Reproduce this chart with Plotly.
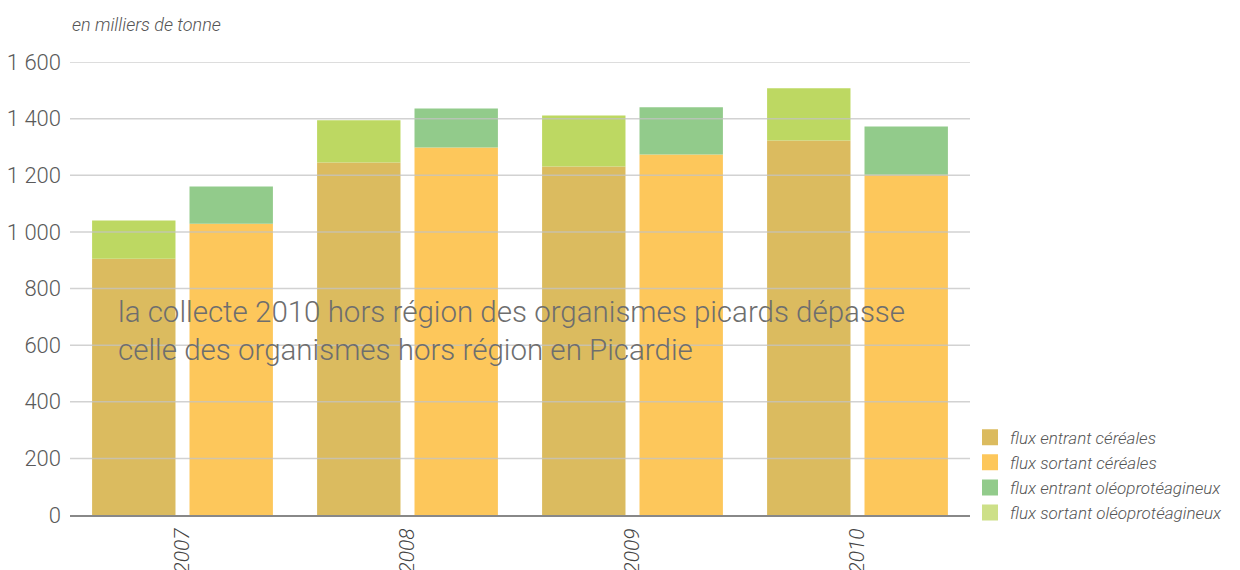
import plotly.graph_objects as go

years = ["2007", "2008", "2009", "2010"]
entrant_cereales = [905, 1245, 1231, 1323]
sortant_oleo = [135, 149, 180, 184]
sortant_cereales = [1029, 1298, 1273, 1202]
entrant_oleo = [131, 138, 167, 170]
y_ticks = [0, 200, 400, 600, 800, 1000, 1200, 1400, 1600]

series_names = [
    "flux entrant céréales",
    "flux sortant céréales",
    "flux entrant oléoprotéagineux",
    "flux sortant oléoprotéagineux",
]
bar_colors = ["#DBBB5F", "#FDC75B", "#92CB8B", "#BDD862"]
legend_colors = ["#DBBB5F", "#FDC75B", "#92CB8B", "#CDE088"]

FONT = "Roboto"
TXT = "#555555"

fig = go.Figure()

# left bar of each year: entrant céréales + sortant oléo on top
fig.add_bar(x=years, y=entrant_cereales, offsetgroup="a", marker_color=bar_colors[0],
            marker_line_width=0, showlegend=False, name=series_names[0])
fig.add_bar(x=years, y=sortant_oleo, base=entrant_cereales, offsetgroup="a",
            marker_color=bar_colors[3], marker_line_width=0, showlegend=False, name=series_names[3])
# right bar: sortant céréales + entrant oléo on top
fig.add_bar(x=years, y=sortant_cereales, offsetgroup="b", marker_color=bar_colors[1],
            marker_line_width=0, showlegend=False, name=series_names[1])
fig.add_bar(x=years, y=entrant_oleo, base=sortant_cereales, offsetgroup="b",
            marker_color=bar_colors[2], marker_line_width=0, showlegend=False, name=series_names[2])

# legend entries
for name, col in zip(series_names, legend_colors):
    fig.add_scatter(x=[None], y=[None], mode="markers", name=name,
                    marker=dict(symbol="square", size=16, color=col))

# gridlines drawn above the bars
for t in y_ticks[1:]:
    fig.add_shape(type="line", xref="paper", x0=0, x1=1, yref="y", y0=t, y1=t,
                  line=dict(color="rgba(195,195,195,0.75)", width=1.5), layer="above")

fig.update_layout(
    width=1232, height=562,
    margin=dict(l=62, r=267, t=54, b=55),
    paper_bgcolor="white", plot_bgcolor="white",
    barmode="group", bargap=0.134, bargroupgap=0.144,
    separators=", ",
    font=dict(family=FONT, color=TXT),
    showlegend=True,
    legend=dict(x=1.0, xanchor="left", y=0.088, yanchor="middle",
                font=dict(family=FONT, size=17, color=TXT, style="italic", weight=300),
                tracegroupgap=0, itemwidth=30, bgcolor="rgba(0,0,0,0)", borderwidth=0),
    xaxis=dict(type="category", tickangle=-90, showgrid=False, showline=True,
               linecolor="#888888", linewidth=2, ticks="", automargin=False,
               ticklabelstandoff=3,
               tickfont=dict(family=FONT, size=21, color="#444444", style="italic", weight=300)),
    yaxis=dict(range=[0, 1600], tickvals=y_ticks, separatethousands=True,
               showgrid=False, zeroline=False, showline=False, ticks="",
               automargin=False, ticklabelstandoff=8,
               tickfont=dict(family=FONT, size=22, color="#5a5a5a", weight=300)),
    annotations=[
        dict(text="en milliers de tonne", xref="paper", yref="paper", x=0, y=1.055,
             xanchor="left", yanchor="bottom", showarrow=False,
             font=dict(family=FONT, size=18, color=TXT, style="italic", weight=300)),
        dict(text="la collecte 2010 hors région des organismes picards dépasse<br>celle des organismes hors région en Picardie",
             xref="paper", yref="paper", x=0.051, y=0.49, xanchor="left", yanchor="top",
             align="left", showarrow=False,
             font=dict(family=FONT, size=29.5, color="#6e6e6e", weight=300)),
    ],
)

fig.write_html("out.html")
